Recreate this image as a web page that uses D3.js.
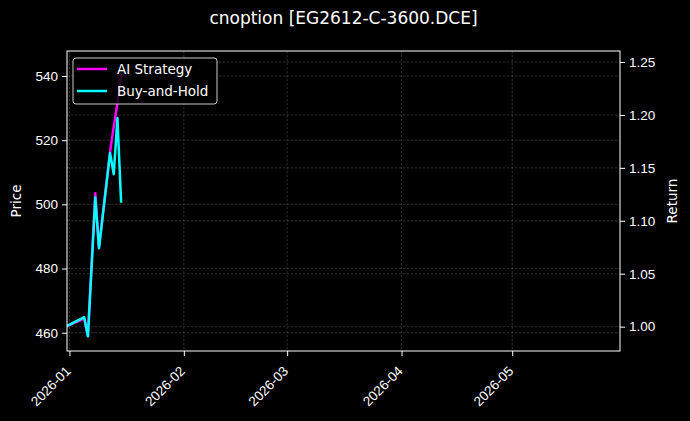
<!DOCTYPE html>
<html>
<head>
<meta charset="utf-8">
<style>
  body { margin: 0; background: #000; }
  svg { display: block; font-family: "DejaVu Sans", sans-serif; }
  .tick text { fill: #fff; font-size: 13.5px; }
  .tick line { stroke: #fff; }
</style>
</head>
<body>
<script src="https://d3js.org/d3.v7.min.js"></script>
<script>

// values
const dates = ["2025-12-31", "2026-01-05", "2026-01-06", "2026-01-08", "2026-01-09",
               "2026-01-12", "2026-01-13", "2026-01-14", "2026-01-15"];
const aiStrategy = [1.000, 1.0075, 0.991, 1.126, 1.075, 1.165, 1.189, 1.211, 1.240];
const buyHold    = [1.000, 1.009, 0.991, 1.122, 1.074, 1.164, 1.144, 1.197, 1.117];
const monthTicks = ["2026-01", "2026-02", "2026-03", "2026-04", "2026-05"];
const priceTicks = [460, 480, 500, 520, 540];
const returnTicks = [1.00, 1.05, 1.10, 1.15, 1.20, 1.25];
const xRange = ["2025-12-31T08:00", "2026-05-30T05:00"];
const priceRange = [454.3, 547.8];
const returnRange = [0.977, 1.2604];
const seriesNames = ["AI Strategy", "Buy-and-Hold"];
const seriesColors = ["#ff00ff", "#00ffff"];

const W = 690, H = 421;
const m = {left: 67, right: 70, top: 51, bottom: 70};
const iw = W - m.left - m.right, ih = H - m.top - m.bottom;

const parseDay = d3.utcParse("%Y-%m-%d");
const parseMonth = d3.utcParse("%Y-%m");
const parseTime = d3.utcParse("%Y-%m-%dT%H:%M");

const svg = d3.select("body")
  .append("svg")
  .attr("width", W)
  .attr("height", H);

svg.append("rect").attr("width", W).attr("height", H).attr("fill", "#000");

const x = d3.scaleUtc()
  .domain(xRange.map(parseTime))
  .range([0, iw]);
const yPrice = d3.scaleLinear().domain(priceRange).range([ih, 0]);
const yRet = d3.scaleLinear().domain(returnRange).range([ih, 0]);

const g = svg.append("g").attr("transform", `translate(${m.left},${m.top})`);

g.append("clipPath").attr("id", "clip")
  .append("rect").attr("width", iw).attr("height", ih);

// grid lines, both y axes + months
const grid = g.append("g")
  .attr("stroke", "#fff")
  .attr("stroke-opacity", 0.3)
  .attr("stroke-width", 0.6)
  .attr("stroke-dasharray", "2.5,1.5");
grid.selectAll(".gx").data(monthTicks).enter().append("line")
  .attr("x1", d => x(parseMonth(d))).attr("x2", d => x(parseMonth(d)))
  .attr("y1", 0).attr("y2", ih);
grid.selectAll(".gp").data(priceTicks).enter().append("line")
  .attr("x1", 0).attr("x2", iw)
  .attr("y1", d => yPrice(d)).attr("y2", d => yPrice(d));
grid.selectAll(".gr").data(returnTicks).enter().append("line")
  .attr("x1", 0).attr("x2", iw)
  .attr("y1", d => yRet(d)).attr("y2", d => yRet(d));

// lines
const series = [aiStrategy, buyHold];
const line = d3.line()
  .x((d, i) => x(parseDay(dates[i])))
  .y(d => yRet(d));
series.forEach((s, k) => {
  g.append("path")
    .datum(s)
    .attr("clip-path", "url(#clip)")
    .attr("fill", "none")
    .attr("stroke", seriesColors[k])
    .attr("stroke-width", 2.5)
    .attr("stroke-linejoin", "round")
    .attr("d", line);
});

// axes
const xAxis = g.append("g")
  .attr("transform", `translate(0,${ih})`)
  .call(d3.axisBottom(x)
    .tickValues(monthTicks.map(parseMonth))
    .tickFormat(d3.utcFormat("%Y-%m"))
    .tickSize(5).tickPadding(4));
xAxis.select(".domain").remove();
xAxis.selectAll("text")
  .attr("x", 0).attr("y", 0).attr("dx", 0).attr("dy", 0)
  .attr("text-anchor", "end")
  .attr("transform", "translate(1.5,21) rotate(-45)");

const yl = g.append("g")
  .call(d3.axisLeft(yPrice).tickValues(priceTicks).tickSize(5).tickPadding(4));
yl.select(".domain").remove();

const yr = g.append("g")
  .attr("transform", `translate(${iw},0)`)
  .call(d3.axisRight(yRet).tickValues(returnTicks).tickFormat(d3.format(".2f"))
    .tickSize(5).tickPadding(4));
yr.select(".domain").remove();

g.append("rect")
  .attr("width", iw).attr("height", ih)
  .attr("fill", "none").attr("stroke", "#fff").attr("stroke-width", 1);

// labels
svg.append("text")
  .attr("x", m.left + iw / 2).attr("y", 24)
  .attr("text-anchor", "middle")
  .attr("fill", "#fff").attr("font-size", 17)
  .text("cnoption [EG2612-C-3600.DCE]");

svg.append("text")
  .attr("transform", `translate(21,${m.top + ih / 2}) rotate(-90)`)
  .attr("text-anchor", "middle")
  .attr("fill", "#fff").attr("font-size", 13.5)
  .text("Price");

svg.append("text")
  .attr("transform", `translate(677,${m.top + ih / 2}) rotate(-90)`)
  .attr("text-anchor", "middle")
  .attr("fill", "#fff").attr("font-size", 13.5)
  .text("Return");

// legend
const legend = g.append("g").attr("transform", "translate(6,7)");
legend.append("rect")
  .attr("width", 144).attr("height", 46)
  .attr("rx", 3)
  .attr("fill", "#000").attr("fill-opacity", 0.8)
  .attr("stroke", "#ccc").attr("stroke-width", 1);
seriesNames.forEach((name, k) => {
  const row = legend.append("g").attr("transform", `translate(0,${11 + k * 22})`);
  row.append("line")
    .attr("x1", 4).attr("x2", 34)
    .attr("stroke", seriesColors[k]).attr("stroke-width", 2.5);
  row.append("text")
    .attr("x", 44).attr("dy", "0.35em")
    .attr("fill", "#fff").attr("font-size", 13.5)
    .text(name);
});

</script>
</body>
</html>
